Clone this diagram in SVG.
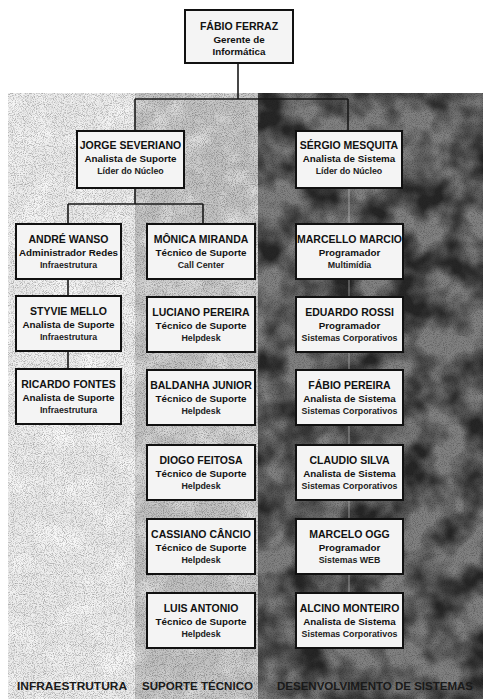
<svg xmlns="http://www.w3.org/2000/svg" width="483" height="699" viewBox="0 0 483 699">
<defs>
<filter id="grain" x="0" y="0" width="100%" height="100%">
<feTurbulence type="fractalNoise" baseFrequency="1.1" numOctaves="1" seed="2"/>
<feColorMatrix type="matrix" values="0 0 0 0 0  0 0 0 0 0  0 0 0 0 0  3 0 0 0 -1.35"/>
</filter>
<filter id="wgrain" x="0" y="0" width="100%" height="100%">
<feTurbulence type="fractalNoise" baseFrequency="1.0" numOctaves="1" seed="5"/>
<feColorMatrix type="matrix" values="0 0 0 0 1  0 0 0 0 1  0 0 0 0 1  3 0 0 0 -1.3"/>
</filter>
<filter id="mottle" x="0" y="0" width="100%" height="100%">
<feTurbulence type="fractalNoise" baseFrequency="0.028" numOctaves="3" seed="7"/>
<feColorMatrix type="matrix" values="0 0 0 0 0  0 0 0 0 0  0 0 0 0 0  2.6 0 0 0 -0.9"/>
</filter>
<filter id="lmottle" x="0" y="0" width="100%" height="100%">
<feTurbulence type="fractalNoise" baseFrequency="0.04" numOctaves="3" seed="11"/>
<feColorMatrix type="matrix" values="0 0 0 0 1  0 0 0 0 1  0 0 0 0 1  2.4 0 0 0 -1.0"/>
</filter>
</defs>
<style>
.box{fill:#f4f4f4;stroke:#111;stroke-width:2}
.t1{font-family:"Liberation Sans",Arial,sans-serif;font-weight:bold;font-size:10.5px;fill:#111;text-anchor:middle}
.t2{font-family:"Liberation Sans",Arial,sans-serif;font-weight:bold;font-size:9.8px;fill:#111;text-anchor:middle}
.t3{font-family:"Liberation Sans",Arial,sans-serif;font-weight:bold;font-size:8.8px;fill:#222;text-anchor:middle}
.lbl{font-family:"Liberation Sans",Arial,sans-serif;font-weight:bold;font-size:10px;fill:#1a1a1a}
.conn{stroke:#1a1a1a;stroke-width:1.6;fill:none}
.faint{stroke:#cfcfcf;stroke-width:1;fill:none;opacity:0.6}
</style>
<rect x="0" y="0" width="483" height="699" fill="#ffffff"/>
<g id="background">
<rect x="8" y="93" width="127" height="606" fill="#ebebeb"/>
<rect x="8" y="93" width="127" height="606" filter="url(#lmottle)" opacity="0.7"/>
<rect x="135" y="93" width="123" height="606" fill="#c2c2c2"/>
<rect x="135" y="93" width="123" height="606" filter="url(#lmottle)" opacity="0.5"/>
<rect x="258" y="93" width="225" height="606" fill="#747474"/>
<rect x="258" y="93" width="225" height="606" filter="url(#mottle)" opacity="0.85"/>
<rect x="8" y="93" width="475" height="606" filter="url(#grain)" opacity="0.3"/>
<rect x="258" y="93" width="225" height="606" filter="url(#wgrain)" opacity="0.45"/>
</g>
<g id="connectors">
<path class="conn" d="M238,63 V99 M135,99 H348 M135,99 V131 M348,99 V131 M135,188 V204 M68,204 H203 M68,204 V224 M203,204 V224 M68,279 V296 M68,351 V369"/>
<path class="faint" d="M349,188 V224 M349,279 V297 M349,352 V370 M349,425 V445 M349,500 V519 M349,574 V593"/>
</g>
<g id="n-fabio-ferraz"><rect class="box" x="185" y="10" width="108" height="53"/><text class="t1" x="239" y="30">FÁBIO FERRAZ</text><text class="t2" x="239" y="43">Gerente de</text><text class="t2" x="239" y="55">Informática</text></g>
<g id="n-jorge"><rect class="box" x="77" y="131" width="107" height="57"/><text class="t1" x="130.5" y="149">JORGE SEVERIANO</text><text class="t2" x="130.5" y="162">Analista de Suporte</text><text class="t3" x="130.5" y="174">Líder do Núcleo</text></g>
<g id="n-sergio"><rect class="box" x="296" y="131" width="106" height="57"/><text class="t1" x="349" y="149">SÉRGIO MESQUITA</text><text class="t2" x="349" y="162">Analista de Sistema</text><text class="t3" x="349" y="174">Líder do Núcleo</text></g>
<g id="n-andre"><rect class="box" x="16" y="224" width="105" height="55"/><text class="t1" x="68.5" y="243">ANDRÉ WANSO</text><text class="t2" x="68.5" y="256">Administrador Redes</text><text class="t3" x="68.5" y="268">Infraestrutura</text></g>
<g id="n-styvie"><rect class="box" x="16" y="296" width="105" height="55"/><text class="t1" x="68.5" y="315">STYVIE MELLO</text><text class="t2" x="68.5" y="328">Analista de Suporte</text><text class="t3" x="68.5" y="340">Infraestrutura</text></g>
<g id="n-ricardo"><rect class="box" x="16" y="369" width="105" height="55"/><text class="t1" x="68.5" y="388">RICARDO FONTES</text><text class="t2" x="68.5" y="401">Analista de Suporte</text><text class="t3" x="68.5" y="413">Infraestrutura</text></g>
<g id="n-monica"><rect class="box" x="147" y="224" width="108" height="55"/><text class="t1" x="201" y="243">MÔNICA MIRANDA</text><text class="t2" x="201" y="256">Técnico de Suporte</text><text class="t3" x="201" y="268">Call Center</text></g>
<g id="n-luciano"><rect class="box" x="147" y="297" width="108" height="55"/><text class="t1" x="201" y="316">LUCIANO PEREIRA</text><text class="t2" x="201" y="329">Técnico de Suporte</text><text class="t3" x="201" y="341">Helpdesk</text></g>
<g id="n-baldanha"><rect class="box" x="147" y="370" width="108" height="55"/><text class="t1" x="201" y="389">BALDANHA JUNIOR</text><text class="t2" x="201" y="402">Técnico de Suporte</text><text class="t3" x="201" y="414">Helpdesk</text></g>
<g id="n-diogo"><rect class="box" x="147" y="445" width="108" height="55"/><text class="t1" x="201" y="464">DIOGO FEITOSA</text><text class="t2" x="201" y="477">Técnico de Suporte</text><text class="t3" x="201" y="489">Helpdesk</text></g>
<g id="n-cassiano"><rect class="box" x="147" y="519" width="108" height="55"/><text class="t1" x="201" y="538">CASSIANO CÂNCIO</text><text class="t2" x="201" y="551">Técnico de Suporte</text><text class="t3" x="201" y="563">Helpdesk</text></g>
<g id="n-luis"><rect class="box" x="147" y="593" width="108" height="55"/><text class="t1" x="201" y="612">LUIS ANTONIO</text><text class="t2" x="201" y="625">Técnico de Suporte</text><text class="t3" x="201" y="637">Helpdesk</text></g>
<g id="n-marcello"><rect class="box" x="296" y="224" width="107" height="55"/><text class="t1" x="349.5" y="243">MARCELLO MARCIO</text><text class="t2" x="349.5" y="256">Programador</text><text class="t3" x="349.5" y="268">Multimídia</text></g>
<g id="n-eduardo"><rect class="box" x="296" y="297" width="107" height="55"/><text class="t1" x="349.5" y="316">EDUARDO ROSSI</text><text class="t2" x="349.5" y="329">Programador</text><text class="t3" x="349.5" y="341">Sistemas Corporativos</text></g>
<g id="n-fabio-pereira"><rect class="box" x="296" y="370" width="107" height="55"/><text class="t1" x="349.5" y="389">FÁBIO PEREIRA</text><text class="t2" x="349.5" y="402">Analista de Sistema</text><text class="t3" x="349.5" y="414">Sistemas Corporativos</text></g>
<g id="n-claudio"><rect class="box" x="296" y="445" width="107" height="55"/><text class="t1" x="349.5" y="464">CLAUDIO SILVA</text><text class="t2" x="349.5" y="477">Analista de Sistema</text><text class="t3" x="349.5" y="489">Sistemas Corporativos</text></g>
<g id="n-marcelo-ogg"><rect class="box" x="296" y="519" width="107" height="55"/><text class="t1" x="349.5" y="538">MARCELO OGG</text><text class="t2" x="349.5" y="551">Programador</text><text class="t3" x="349.5" y="563">Sistemas WEB</text></g>
<g id="n-alcino"><rect class="box" x="296" y="593" width="107" height="55"/><text class="t1" x="349.5" y="612">ALCINO MONTEIRO</text><text class="t2" x="349.5" y="625">Analista de Sistema</text><text class="t3" x="349.5" y="637">Sistemas Corporativos</text></g>
<g id="labels">
<text class="lbl" x="17" y="690" textLength="110" lengthAdjust="spacingAndGlyphs">INFRAESTRUTURA</text>
<text class="lbl" x="142" y="690" textLength="111" lengthAdjust="spacingAndGlyphs">SUPORTE TÉCNICO</text>
<text class="lbl" x="277" y="690" textLength="196" lengthAdjust="spacingAndGlyphs">DESENVOLVIMENTO DE SISTEMAS</text>
</g>
</svg>
